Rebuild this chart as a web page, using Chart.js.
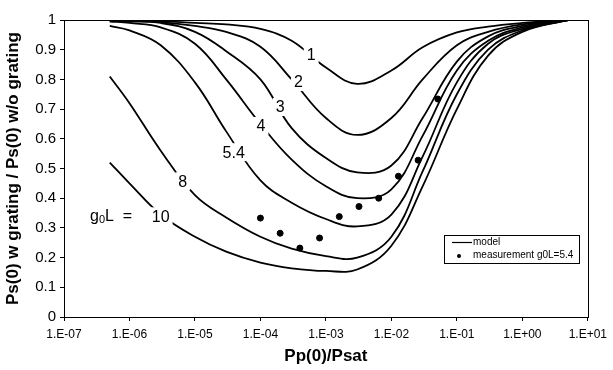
<!DOCTYPE html>
<html><head><meta charset="utf-8">
<script src="https://cdn.jsdelivr.net/npm/chart.js@4.4.0/dist/chart.umd.min.js"></script>
<style>html,body{margin:0;padding:0;background:#fff}#wrap{width:613px;height:370px;position:relative}</style>
</head><body><div id="wrap"><canvas id="c" width="613" height="370"></canvas></div>
<script>
// x grid of the model curves (Pp(0)/Psat)
const xGrid = [5e-7,1e-6,3e-6,1e-5,3e-5,1e-4,3e-4,1e-3,3e-3,1e-2,3e-2,1e-1,3e-1,1,5];
// model curves, one per g0L value
const g1  = [0.999,0.998,0.996,0.99,0.985,0.97,0.93,0.84,0.785,0.83,0.908,0.958,0.978,0.99,1.0];
const g2  = [0.998,0.997,0.993,0.98,0.96,0.91,0.80,0.67,0.613,0.67,0.80,0.915,0.96,0.985,1.0];
const g3  = [0.997,0.995,0.99,0.96,0.895,0.80,0.636,0.535,0.487,0.51,0.67,0.86,0.945,0.98,1.0];
const g4  = [0.995,0.99,0.975,0.92,0.80,0.65,0.53,0.44,0.40,0.43,0.61,0.83,0.93,0.975,1.0];
const g54 = [0.98,0.965,0.915,0.79,0.625,0.46,0.385,0.33,0.305,0.345,0.54,0.79,0.92,0.97,1.0];
const g8  = [0.81,0.72,0.56,0.41,0.335,0.27,0.23,0.205,0.20,0.27,0.49,0.75,0.90,0.965,1.0];
const g10 = [0.52,0.45,0.345,0.27,0.22,0.183,0.164,0.155,0.16,0.24,0.44,0.70,0.88,0.96,1.0];
// measurement g0L=5.4
const measX = [1e-4,2e-4,4e-4,8e-4,1.6e-3,3.2e-3,6.4e-3,1.28e-2,2.56e-2,5.12e-2];
const measY = [0.333,0.282,0.232,0.266,0.338,0.372,0.400,0.474,0.528,0.734];
// tick labels
const xTickVals = [1e-7,1e-6,1e-5,1e-4,1e-3,1e-2,1e-1,1,10];
const xTickLabels = ["1.E-07","1.E-06","1.E-05","1.E-04","1.E-03","1.E-02","1.E-01","1.E+00","1.E+01"];
const yTickLabels = ["0","0.1","0.2","0.3","0.4","0.5","0.6","0.7","0.8","0.9","1"];
// curve labels (text at data positions)
const curveLabels = ["1","2","3","4","5.4","8","10"];
const curveLabelX = [5.96e-4,3.8e-4,2.0e-4,1.02e-4,3.9e-5,6.5e-6,3.0e-6];
const curveLabelY = [0.882,0.791,0.707,0.643,0.555,0.457,0.339];

const curves = [g1,g2,g3,g4,g54,g8,g10];
const datasets = curves.map((arr,i)=>({
  label: i===0 ? 'model' : 'model '+curveLabels[i],
  data: arr.map((v,j)=>({x:xGrid[j],y:v})),
  borderColor:'#000', borderWidth:1.8, pointRadius:0, fill:false,
  tension:0.4
}));
datasets.push({
  label:'measurement g0L=5.4', type:'scatter',
  data: measX.map((v,j)=>({x:v,y:measY[j]})),
  backgroundColor:'#000', borderColor:'#000', pointRadius:3, showLine:false
});

const FONT = "'Liberation Sans', Arial, sans-serif";

const deco = {
  id:'deco',
  afterDatasetsDraw(chart){
    const {ctx, chartArea:a, scales:{x,y}} = chart;
    ctx.save();
    // frame
    ctx.strokeStyle='#000'; ctx.lineWidth=1;
    ctx.strokeRect(Math.round(a.left)+0.5, Math.round(a.top)+0.5, Math.round(a.right-a.left), Math.round(a.bottom-a.top));
    // curve labels
    ctx.font = "16px "+FONT;
    ctx.textAlign='center'; ctx.textBaseline='middle';
    curveLabels.forEach((t,i)=>{
      const px = x.getPixelForValue(curveLabelX[i]);
      const py = y.getPixelForValue(curveLabelY[i]);
      const w = ctx.measureText(t).width;
      ctx.fillStyle='#fff';
      ctx.fillRect(px-w/2-3, py-9, w+6, 18);
      ctx.fillStyle='#000';
      ctx.fillText(t, px, py+1);
    });
    // g0L =
    const gy = y.getPixelForValue(0.339);
    let gx = x.getPixelForValue(2.5e-7);
    ctx.textAlign='left';
    ctx.font = "16px "+FONT;
    ctx.fillText('g', gx, gy);
    gx += ctx.measureText('g').width;
    ctx.font = "11px "+FONT;
    ctx.fillText('0', gx, gy+4);
    gx += ctx.measureText('0').width;
    ctx.font = "16px "+FONT;
    ctx.fillText('L  =', gx, gy);
    // legend
    const lx = 444, ly = 235, lw = 135, lh = 28;
    ctx.fillStyle='#fff'; ctx.fillRect(lx,ly,lw,lh);
    ctx.strokeStyle='#000'; ctx.lineWidth=1;
    ctx.strokeRect(lx+0.5, ly+0.5, lw, lh);
    ctx.beginPath(); ctx.moveTo(452, 242.5); ctx.lineTo(472, 242.5); ctx.lineWidth=1.2; ctx.stroke();
    ctx.beginPath(); ctx.arc(459, 256, 2, 0, Math.PI*2); ctx.fillStyle='#000'; ctx.fill();
    ctx.font = "10px "+FONT; ctx.textBaseline='middle';
    ctx.fillText('model', 473, 242);
    ctx.fillText('measurement g0L=5.4', 473, 255);
    ctx.restore();
  }
};

new Chart(document.getElementById('c'), {
  type:'line',
  data:{datasets},
  plugins:[deco],
  options:{
    responsive:false, animation:false, devicePixelRatio:1,
    layout:{padding:{top:20,right:24,left:0,bottom:0}},
    plugins:{legend:{display:false}, tooltip:{enabled:false}},
    scales:{
      x:{
        type:'logarithmic', min:1e-7, max:10,
        afterBuildTicks(s){ s.ticks = xTickVals.map(v=>({value:v})); },
        afterFit(s){ s.height = 53; },
        ticks:{ autoSkip:false, maxRotation:0, padding:6, color:'#000',
          font:{family:FONT, size:12},
          callback(v){ const k = xTickVals.findIndex(t=>Math.abs(Math.log10(t)-Math.log10(v))<1e-6); return k>=0 ? xTickLabels[k] : ''; } },
        grid:{ drawOnChartArea:false, color:'#000', tickLength:4, tickColor:'#000' },
        border:{ color:'#000', width:1 },
        title:{ display:true, text:'Pp(0)/Psat', color:'#000', font:{family:FONT, size:17, weight:'bold'}, padding:{top:0,bottom:3} }
      },
      y:{
        min:0, max:1,
        afterBuildTicks(s){ s.ticks = yTickLabels.map((t,i)=>({value:i/10})); },
        afterFit(s){ s.width = 64; },
        ticks:{ autoSkip:false, padding:4, color:'#000', font:{family:FONT, size:15},
          callback(v){ const k = Math.round(v*10); return yTickLabels[k]; } },
        grid:{ drawOnChartArea:false, color:'#000', tickLength:4, tickColor:'#000' },
        border:{ color:'#000', width:1 },
        title:{ display:true, text:'Ps(0) w grating / Ps(0) w/o grating', color:'#000', font:{family:FONT, size:17, weight:'bold'}, padding:{top:3,bottom:0} }
      }
    }
  }
});
</script></body></html>
